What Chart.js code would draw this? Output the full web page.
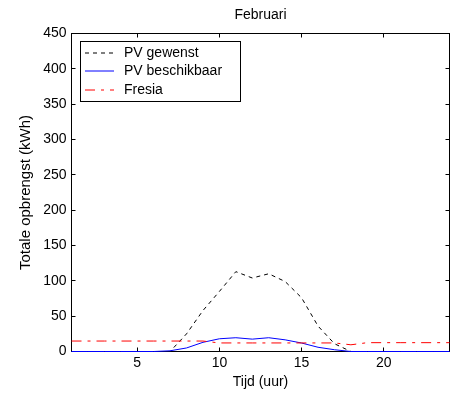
<!DOCTYPE html>
<html>
<head>
<title>Februari</title>
<style>
    html, body {
        margin: 0;
        padding: 0;
        background-color: #ffffff;
    }
    #chart {
        display: block;
    }
</style>
</head>
<body>
<canvas id="chart" width="458" height="399"></canvas>

<script src="https://cdn.jsdelivr.net/npm/chart.js"></script>
<script>
// uurwaarden voor februari
const hours = [1, 2, 3, 4, 5, 6, 7, 8, 9, 10, 11, 12, 13, 14, 15, 16, 17, 18, 19, 20, 21, 22, 23, 24];
const pvGewenst = [0, 0, 0, 0, 0, 0, 0, 25, 58, 85, 113, 104, 110, 99, 76, 36, 11, 0, 0, 0, 0, 0, 0, 0];
const pvBeschikbaar = [0, 0, 0, 0, 0, 0, 1, 5, 13, 18, 19.5, 17.5, 19.5, 16.5, 12, 6, 2.5, 0, 0, 0, 0, 0, 0, 0];
const fresia = [14.8, 14.8, 14.8, 14.8, 14.8, 14.8, 14.8, 14.8, 14.8, 12.1, 12.1, 12.1, 12.1, 12.1, 12.1, 12.1, 12.1, 9.5, 12.5, 12.5, 12.5, 12.5, 12.5, 12.5];
const seriesLabels = ['PV gewenst', 'PV beschikbaar', 'Fresia'];
const xTicks = [5, 10, 15, 20];
const yTicks = [0, 50, 100, 150, 200, 250, 300, 350, 400, 450];

const FONT = '"Liberation Sans", Arial, Helvetica, sans-serif';

function toPoints(values) {
    return hours.map((h, i) => ({ x: h, y: values[i] }));
}

// kader rond de plot met naar binnen gerichte tickstreepjes
const frame = {
    id: 'frame',
    beforeDatasetsDraw(chart) {
        const { ctx, chartArea: a, scales } = chart;
        const len = 4;
        ctx.save();
        ctx.strokeStyle = '#000000';
        ctx.lineWidth = 1;
        ctx.strokeRect(a.left, a.top, a.right - a.left, a.bottom - a.top);
        ctx.beginPath();
        scales.x.ticks.forEach(t => {
            const px = Math.round(scales.x.getPixelForValue(t.value) - 0.5) + 0.5;
            ctx.moveTo(px, a.bottom);
            ctx.lineTo(px, a.bottom - len);
            ctx.moveTo(px, a.top);
            ctx.lineTo(px, a.top + len);
        });
        scales.y.ticks.forEach(t => {
            const py = Math.round(scales.y.getPixelForValue(t.value) - 0.5) + 0.5;
            ctx.moveTo(a.left, py);
            ctx.lineTo(a.left + len, py);
            ctx.moveTo(a.right, py);
            ctx.lineTo(a.right - len, py);
        });
        ctx.stroke();
        ctx.restore();
    }
};

// legenda in een kader linksboven binnen de plot
const boxLegend = {
    id: 'boxLegend',
    afterDatasetsDraw(chart) {
        const { ctx, chartArea: a } = chart;
        const sets = chart.data.datasets;
        ctx.save();
        ctx.font = '14px ' + FONT;
        const textW = Math.max(...sets.map(d => ctx.measureText(d.label).width));
        const left = a.left + 9;
        const top = a.top + 8;
        const w = Math.round(44 + textW + 18);
        const h = 60;
        ctx.fillStyle = '#ffffff';
        ctx.fillRect(left, top, w, h);
        ctx.strokeStyle = '#000000';
        ctx.lineWidth = 1;
        ctx.strokeRect(left, top, w, h);

        sets.forEach((d, i) => {
            const y = Math.round(top + 11.5 + i * 18.3);
            ctx.beginPath();
            ctx.setLineDash(d.borderDash || []);
            ctx.strokeStyle = d.borderColor;
            ctx.moveTo(left + 4.5, y);
            ctx.lineTo(left + 33.5, y);
            ctx.stroke();
            ctx.setLineDash([]);
            ctx.fillStyle = '#000000';
            ctx.textAlign = 'left';
            ctx.textBaseline = 'middle';
            ctx.fillText(d.label, left + 43.5, y);
        });
        ctx.restore();
    }
};

const tickFont = { family: FONT, size: 14, lineHeight: 1.2 };

new Chart(document.getElementById('chart'), {
    type: 'line',
    data: {
        datasets: [
            { label: seriesLabels[0], data: toPoints(pvGewenst), borderColor: '#000000', borderDash: [4, 4], order: 3 },
            { label: seriesLabels[1], data: toPoints(pvBeschikbaar), borderColor: '#0000ff', order: 2 },
            { label: seriesLabels[2], data: toPoints(fresia), borderColor: '#ff0000', borderDash: [10, 6, 3, 6], order: 1 }
        ]
    },
    options: {
        responsive: false,
        animation: false,
        layout: { padding: { top: 0, right: 8.5, bottom: 0, left: 0 } },
        elements: {
            line: { borderWidth: 1, tension: 0, fill: false },
            point: { radius: 0, hoverRadius: 0 }
        },
        datasets: { line: { clip: false } },
        plugins: {
            legend: { display: false },
            tooltip: { enabled: false },
            title: {
                display: true,
                text: 'Februari',
                fullSize: false,
                color: '#000000',
                font: { family: FONT, size: 14, weight: 'normal', lineHeight: 1.2 },
                padding: { top: 6.5, bottom: 10.2 }
            }
        },
        scales: {
            x: {
                type: 'linear',
                min: 1,
                max: 24,
                grid: { display: false, drawTicks: false },
                border: { display: false },
                ticks: { color: '#000000', font: tickFont, padding: 3, maxRotation: 0 },
                afterBuildTicks: s => { s.ticks = xTicks.map(v => ({ value: v })); },
                afterFit: s => { s.height = 47.5; },
                title: {
                    display: true,
                    text: 'Tijd (uur)',
                    color: '#000000',
                    font: { family: FONT, size: 14, lineHeight: 1.2 },
                    padding: { top: 0, bottom: 8.6 }
                }
            },
            y: {
                type: 'linear',
                min: 0,
                max: 450,
                grid: { display: false, drawTicks: false },
                border: { display: false },
                ticks: { color: '#000000', font: tickFont, padding: 5 },
                afterBuildTicks: s => { s.ticks = yTicks.map(v => ({ value: v })); },
                afterFit: s => { s.width = 71.5; },
                title: {
                    display: true,
                    text: 'Totale opbrengst (kWh)',
                    color: '#000000',
                    font: { family: FONT, size: 15, lineHeight: 1.2 },
                    padding: { top: 17, bottom: 0 }
                }
            }
        }
    },
    plugins: [frame, boxLegend]
});
</script>
</body>
</html>
